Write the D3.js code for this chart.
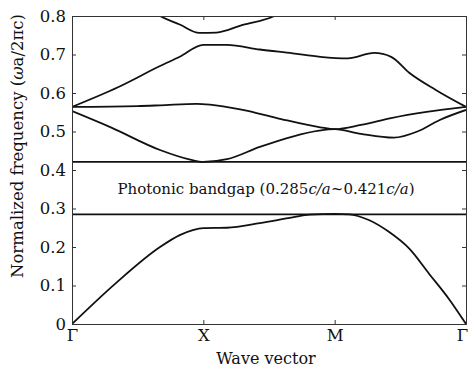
<!DOCTYPE html>
<meta charset="utf-8">
<html>
<head>
<style>
  body { margin: 0; background: #fff; }
  text { font-family: "DejaVu Serif", "Liberation Serif", serif; fill: #111; }
</style>
</head>
<body>
<div id="chart"></div>
<script src="https://d3js.org/d3.v7.min.js"></script>
<script>
// symmetry points along the wave vector path
var kLabels = ["Γ", "X", "M", "Γ"]
var kTicks = [0, 1, 2, 3]
var yTicks = [0, 0.1, 0.2, 0.3, 0.4, 0.5, 0.6, 0.7, 0.8]
var yTickLabels = ["0", "0.1", "0.2", "0.3", "0.4", "0.5", "0.6", "0.7", "0.8"]

// bandgap edges
var gapLow = 0.285, gapHigh = 0.421

// bands, [k, frequency]
var band1 = [[0, 0], [0.33, 0.105], [0.67, 0.2], [0.82, 0.231], [0.92, 0.244], [1, 0.249],
             [1.18, 0.25], [1.43, 0.262], [1.68, 0.277], [1.81, 0.284], [2, 0.286], [2.11, 0.285],
             [2.26, 0.27], [2.41, 0.24], [2.57, 0.195], [2.72, 0.13], [2.87, 0.065], [3, 0]]
var band2 = [[0, 0.553], [0.3, 0.51], [0.67, 0.452], [0.9, 0.427], [1, 0.421], [1.18, 0.428],
             [1.43, 0.46], [1.68, 0.487], [1.88, 0.502], [2, 0.506], [2.2, 0.494], [2.45, 0.484],
             [2.63, 0.5], [2.8, 0.53], [3, 0.556]]
var band3 = [[0, 0.564], [0.5, 0.566], [0.67, 0.568], [0.95, 0.572], [1.05, 0.57], [1.3, 0.556],
             [1.56, 0.535], [1.89, 0.511], [2, 0.506], [2.2, 0.517], [2.43, 0.535], [2.7, 0.551], [3, 0.564]]
var band4 = [[0, 0.564], [0.35, 0.615], [0.67, 0.67], [0.82, 0.694], [1, 0.725], [1.18, 0.725],
             [1.43, 0.713], [1.68, 0.703], [1.89, 0.694], [2.1, 0.69], [2.3, 0.704], [2.43, 0.694],
             [2.57, 0.652], [2.77, 0.608], [3, 0.564]]
var band5 = [[0.5, 0.84], [0.67, 0.8], [0.82, 0.778], [0.97, 0.756], [1.1, 0.757], [1.3, 0.777],
             [1.54, 0.8], [1.7, 0.835]]
var bands = [band1, band2, band3, band4, band5]

var W = 469, H = 368
var margin = {top: 16, right: 3, bottom: 44, left: 72}
var width = W - margin.left - margin.right,
    height = H - margin.top - margin.bottom

var svg = d3.select("#chart").append("svg")
    .attr("width", W).attr("height", H)
  .append("g")
    .attr("transform", "translate(" + margin.left + "," + margin.top + ")")

var x = d3.scaleLinear().domain([0, 3]).range([0, width])
var y = d3.scaleLinear().domain([0, 0.8]).range([height, 0])

svg.append("clipPath").attr("id", "clip")
  .append("rect").attr("width", width).attr("height", height)

// bandgap edges
svg.selectAll(".gap")
  .data([gapLow, gapHigh])
  .enter().append("line")
    .attr("x1", 0).attr("x2", width)
    .attr("y1", function(d) { return y(d) }).attr("y2", function(d) { return y(d) })
    .style("stroke", "#111").style("stroke-width", 1.8)

var line = d3.line()
  .x(function(d) { return x(d[0]) })
  .y(function(d) { return y(d[1]) })
  .curve(d3.curveMonotoneX)

svg.append("g").attr("clip-path", "url(#clip)")
  .selectAll("path")
  .data(bands)
  .enter().append("path")
    .attr("d", line)
    .style("fill", "none")
    .style("stroke", "#111")
    .style("stroke-width", 1.8)

// axes with inward ticks on all sides
var yAxis = d3.axisLeft(y).tickValues(yTicks).tickSize(-4).tickPadding(6)
  .tickFormat(function(d, i) { return yTickLabels[i] })
var xAxis = d3.axisBottom(x).tickValues(kTicks).tickSize(-4).tickPadding(4)
  .tickFormat(function(d, i) { return kLabels[i] })

var ga = svg.append("g").call(yAxis)
var gb = svg.append("g").attr("transform", "translate(0," + height + ")").call(xAxis)
var gr = svg.append("g").attr("transform", "translate(" + width + ",0)")
  .call(d3.axisRight(y).tickValues(yTicks).tickSize(-4).tickFormat(""))
var gt = svg.append("g")
  .call(d3.axisTop(x).tickValues(kTicks).tickSize(-4).tickFormat(""))

;[ga, gb, gr, gt].forEach(function(g) {
  g.select(".domain").style("stroke", "#333").style("stroke-width", 1)
  g.selectAll(".tick line").style("stroke", "#333")
  g.selectAll("text").style("font-size", "16.5px").style("fill", "#111")
    .style("font-family", "'DejaVu Serif', serif")
})
gb.selectAll("text").attr("dy", "0.8em")
gb.selectAll("text").filter(function(d, i) { return i === 3 }).attr("dx", -4)

// gap label
var lab = svg.append("text")
  .attr("x", width / 2 - 3)
  .attr("y", y((gapLow + gapHigh) / 2) + 6)
  .attr("text-anchor", "middle")
  .style("font-size", "15px")
lab.append("tspan").text("Photonic bandgap (0.285")
lab.append("tspan").style("font-style", "italic").text("c/a")
lab.append("tspan").text("~0.421")
lab.append("tspan").style("font-style", "italic").text("c/a")
lab.append("tspan").text(")")

// axis titles
svg.append("text")
  .attr("x", width / 2 - 3)
  .attr("y", height + 40)
  .attr("text-anchor", "middle")
  .style("font-size", "16px")
  .text("Wave vector")

var yl = svg.append("text")
  .attr("transform", "rotate(-90)")
  .attr("x", -(146 - margin.top))
  .attr("y", -margin.left + 23)
  .attr("text-anchor", "middle")
  .style("font-size", "16.5px")
yl.append("tspan").text("Normalized frequency (")
yl.append("tspan").style("font-style", "italic").text("ω")
yl.append("tspan").text("a/2πc)")
</script>
</body>
</html>
